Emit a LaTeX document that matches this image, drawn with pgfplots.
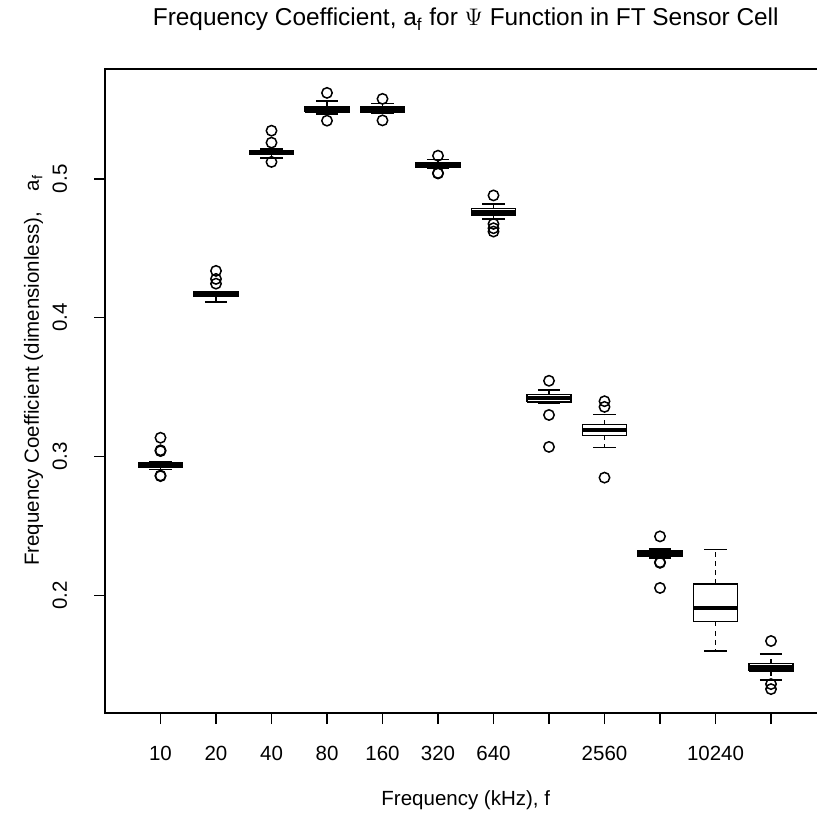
\documentclass[border=0pt]{standalone}
\usepackage{fontspec}
\setmainfont{Liberation Sans}
\usepackage{pgfplots}
\pgfplotsset{compat=1.18}
\begin{document}
\begin{tikzpicture}
\begin{axis}[
  name=ax,
  scale only axis,
  width=360.75pt, height=322pt,
  xmin=0, xmax=13,
  ymin=0.1155, ymax=0.5790,
  font=\fontsize{10.25}{12}\selectfont,
  axis line style={line width=0.75pt},
  tick style={line width=0.75pt, black},
  tick align=outside,
  major tick length=5.5pt,
  xtick pos=bottom, ytick pos=left,
  xtick={1,2,3,4,5,6,7,8,9,10,11,12},
  xticklabels={10,20,40,80,160,320,640,,2560,,10240,},
  ytick={0.2,0.3,0.4,0.5},
  yticklabels={0.2,0.3,0.4,0.5},
  xticklabel style={anchor=base, inner sep=0pt, yshift=-18pt},
  yticklabel style={anchor=base, inner sep=0pt, xshift=-13.5pt, rotate=90},
  every axis title/.style={at={(axis description cs:0.5,1.0668)}, anchor=base, font=\fontsize{12.2}{14}\selectfont},
  every axis x label/.style={at={(axis description cs:0.5,-0.1444)}, anchor=base},
  every axis y label/.style={at={(axis description cs:-0.0915,0.532)}, anchor=base, rotate=90},
  title={Frequency Coefficient, a\textsubscript{f} for $\Psi$ Function in FT Sensor Cell},
  xlabel={Frequency (kHz), f},
  ylabel={Frequency Coefficient (dimensionless),\hspace{1em}a\textsubscript{f}},
  unbounded coords=jump,
  every axis plot/.append style={black, line width=0.75pt},
]
% whisker stems (dashed)
\addplot[dash pattern=on 2.4pt off 2.2pt, no marks] coordinates {
(1,0.2957)(1,0.2960)(nan,nan)(1,0.2921)(1,0.2907)(nan,nan)
(2,0.4187)(2,0.4190)(nan,nan)(2,0.4151)(2,0.4113)(nan,nan)
(3,0.5205)(3,0.5215)(nan,nan)(3,0.5175)(3,0.5150)(nan,nan)
(4,0.5520)(4,0.5560)(nan,nan)(4,0.5480)(4,0.5467)(nan,nan)
(5,0.5521)(5,0.5541)(nan,nan)(5,0.5481)(5,0.5474)(nan,nan)
(6,0.5113)(6,0.5139)(nan,nan)(6,0.5081)(6,0.5077)(nan,nan)
(7,0.4786)(7,0.4820)(nan,nan)(7,0.4738)(7,0.4712)(nan,nan)
(8,0.3447)(8,0.3478)(nan,nan)(8,0.3392)(8,0.3387)(nan,nan)
(9,0.3231)(9,0.3305)(nan,nan)(9,0.3154)(9,0.3067)(nan,nan)
(10,0.2320)(10,0.2337)(nan,nan)(10,0.2281)(10,0.2272)(nan,nan)
(11,0.2082)(11,0.2332)(nan,nan)(11,0.1813)(11,0.1603)(nan,nan)
(12,0.1512)(12,0.1580)(nan,nan)(12,0.1459)(12,0.1394)
};
% whisker caps
\addplot[no marks] coordinates {
(0.8,0.2960)(1.2,0.2960)(nan,nan)(0.8,0.2907)(1.2,0.2907)(nan,nan)
(1.8,0.4190)(2.2,0.4190)(nan,nan)(1.8,0.4113)(2.2,0.4113)(nan,nan)
(2.8,0.5215)(3.2,0.5215)(nan,nan)(2.8,0.5150)(3.2,0.5150)(nan,nan)
(3.8,0.5560)(4.2,0.5560)(nan,nan)(3.8,0.5467)(4.2,0.5467)(nan,nan)
(4.8,0.5541)(5.2,0.5541)(nan,nan)(4.8,0.5474)(5.2,0.5474)(nan,nan)
(5.8,0.5139)(6.2,0.5139)(nan,nan)(5.8,0.5077)(6.2,0.5077)(nan,nan)
(6.8,0.4820)(7.2,0.4820)(nan,nan)(6.8,0.4712)(7.2,0.4712)(nan,nan)
(7.8,0.3478)(8.2,0.3478)(nan,nan)(7.8,0.3387)(8.2,0.3387)(nan,nan)
(8.8,0.3305)(9.2,0.3305)(nan,nan)(8.8,0.3067)(9.2,0.3067)(nan,nan)
(9.8,0.2337)(10.2,0.2337)(nan,nan)(9.8,0.2272)(10.2,0.2272)(nan,nan)
(10.8,0.2332)(11.2,0.2332)(nan,nan)(10.8,0.1603)(11.2,0.1603)(nan,nan)
(11.8,0.1580)(12.2,0.1580)(nan,nan)(11.8,0.1394)(12.2,0.1394)
};
% boxes (lower to upper quartile)
\addplot[no marks, line join=miter] coordinates {
(0.6,0.2921)(1.4,0.2921)(1.4,0.2957)(0.6,0.2957)(0.6,0.2921)(nan,nan)
(1.6,0.4151)(2.4,0.4151)(2.4,0.4187)(1.6,0.4187)(1.6,0.4151)(nan,nan)
(2.6,0.5175)(3.4,0.5175)(3.4,0.5205)(2.6,0.5205)(2.6,0.5175)(nan,nan)
(3.6,0.5480)(4.4,0.5480)(4.4,0.5520)(3.6,0.5520)(3.6,0.5480)(nan,nan)
(4.6,0.5481)(5.4,0.5481)(5.4,0.5521)(4.6,0.5521)(4.6,0.5481)(nan,nan)
(5.6,0.5081)(6.4,0.5081)(6.4,0.5113)(5.6,0.5113)(5.6,0.5081)(nan,nan)
(6.6,0.4738)(7.4,0.4738)(7.4,0.4786)(6.6,0.4786)(6.6,0.4738)(nan,nan)
(7.6,0.3392)(8.4,0.3392)(8.4,0.3447)(7.6,0.3447)(7.6,0.3392)(nan,nan)
(8.6,0.3154)(9.4,0.3154)(9.4,0.3231)(8.6,0.3231)(8.6,0.3154)(nan,nan)
(9.6,0.2281)(10.4,0.2281)(10.4,0.2320)(9.6,0.2320)(9.6,0.2281)(nan,nan)
(10.6,0.1813)(11.4,0.1813)(11.4,0.2082)(10.6,0.2082)(10.6,0.1813)(nan,nan)
(11.6,0.1459)(12.4,0.1459)(12.4,0.1512)(11.6,0.1512)(11.6,0.1459)
};
% medians
\addplot[no marks, line width=2.2pt, line cap=butt] coordinates {
(0.6,0.2940)(1.4,0.2940)(nan,nan)(1.6,0.4168)(2.4,0.4168)(nan,nan)
(2.6,0.5190)(3.4,0.5190)(nan,nan)(3.6,0.5500)(4.4,0.5500)(nan,nan)
(4.6,0.5503)(5.4,0.5503)(nan,nan)(5.6,0.5099)(6.4,0.5099)(nan,nan)
(6.6,0.4762)(7.4,0.4762)(nan,nan)(7.6,0.3423)(8.4,0.3423)(nan,nan)
(8.6,0.3190)(9.4,0.3190)(nan,nan)(9.6,0.2301)(10.4,0.2301)(nan,nan)
(10.6,0.1909)(11.4,0.1909)(nan,nan)(11.6,0.1483)(12.4,0.1483)
};
% outliers
\addplot[only marks, mark=o, mark size=2.6pt] coordinates {
(1,0.3136)(1,0.3046)(1,0.3040)(1,0.2860)(1,0.2864)
(2,0.4337)(2,0.4279)(2,0.4245)
(3,0.5346)(3,0.5260)(3,0.5121)
(4,0.5618)(4,0.5418)
(5,0.5575)(5,0.5420)
(6,0.5166)(6,0.5041)(6,0.5038)
(7,0.4880)(7,0.4675)(7,0.4644)(7,0.4620)
(8,0.3546)(8,0.3300)(8,0.3070)
(9,0.3399)(9,0.3358)(9,0.2849)
(10,0.2426)(10,0.2236)(10,0.2240)(10,0.2055)
(12,0.1673)(12,0.1363)(12,0.1327)
};
\end{axis}
\pgfresetboundingbox
\path[use as bounding box] ([shift={(-52.5pt,-52.5pt)}]ax.south west) rectangle ([shift={(-4.75pt,34.5pt)}]ax.north east);
\end{tikzpicture}
\end{document}
